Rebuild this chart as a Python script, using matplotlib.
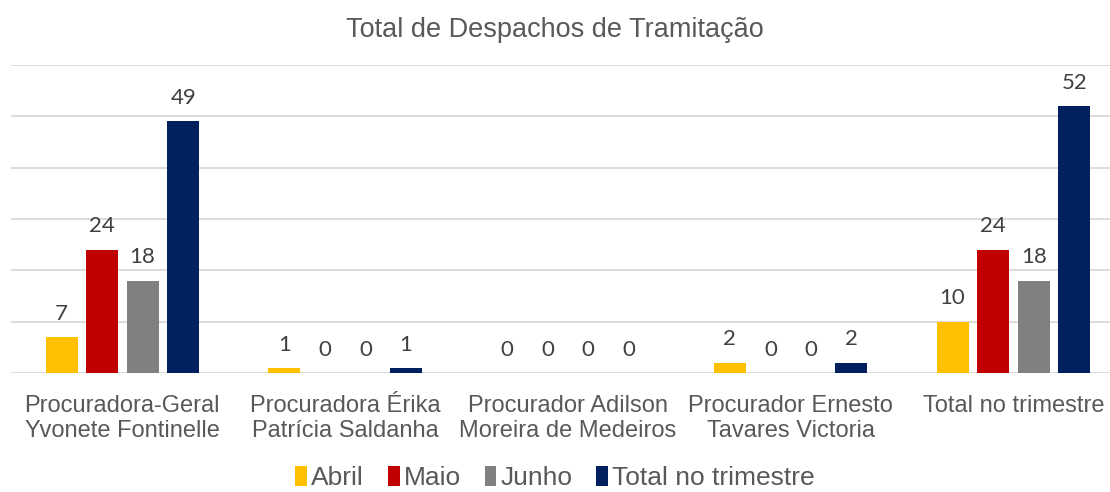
import numpy as np
import matplotlib.pyplot as plt

categories = ["Procuradora-Geral\nYvonete Fontinelle", "Procuradora Érika\nPatrícia Saldanha",
              "Procurador Adilson\nMoreira de Medeiros", "Procurador Ernesto\nTavares Victoria",
              "Total no trimestre"]
series_names = ["Abril", "Maio", "Junho", "Total no trimestre"]
abril = [7, 1, 0, 2, 10]
maio = [24, 0, 0, 0, 24]
junho = [18, 0, 0, 0, 18]
total = [49, 1, 0, 2, 52]
colors = ["#FFC000", "#C00000", "#808080", "#002060"]

plt.rcParams['font.family'] = ['Liberation Sans', 'DejaVu Sans']

fig = plt.figure(figsize=(11.1, 4.92), dpi=100)
# plot area runs slightly past the right edge, like the original
ax = fig.add_axes([0.0099, 0.2419, 1.0034, 0.626])

x = np.arange(len(categories))
step = 0.182
width = 0.1437
for i, (name, vals) in enumerate(zip(series_names, [abril, maio, junho, total])):
    pos = x + (i - 1.5) * step
    ax.bar(pos, vals, width, color=colors[i], label=name, zorder=3)
    for p, v in zip(pos, vals):
        ax.text(p, v + 2.6, str(v), ha='center', va='bottom', fontsize=16,
                color='#404040', family=['Lato', 'DejaVu Sans'])

ax.set_xlim(-0.5, 4.5)
ax.set_ylim(0, 60)
ax.set_yticks(np.arange(0, 61, 10))
ax.yaxis.grid(True, color='#D9D9D9', linewidth=1.3, zorder=0)
ax.tick_params(axis='y', left=False, labelleft=False)
ax.tick_params(axis='x', bottom=False, labelsize=17, labelcolor='#595959', pad=12)
ax.set_xticks(x)
ax.set_xticklabels(categories, linespacing=1.2)
for s in ax.spines.values():
    s.set_visible(False)

fig.suptitle("Total de Despachos de Tramitação", y=0.965, fontsize=19.5, color='#595959')
fig.legend(loc='lower center', bbox_to_anchor=(0.5, -0.045), ncol=4, frameon=False,
           fontsize=19, labelcolor='#595959', handlelength=0.45, handleheight=0.8,
           handletextpad=0.15, columnspacing=0.9)

fig.savefig("out.png", dpi=100)
